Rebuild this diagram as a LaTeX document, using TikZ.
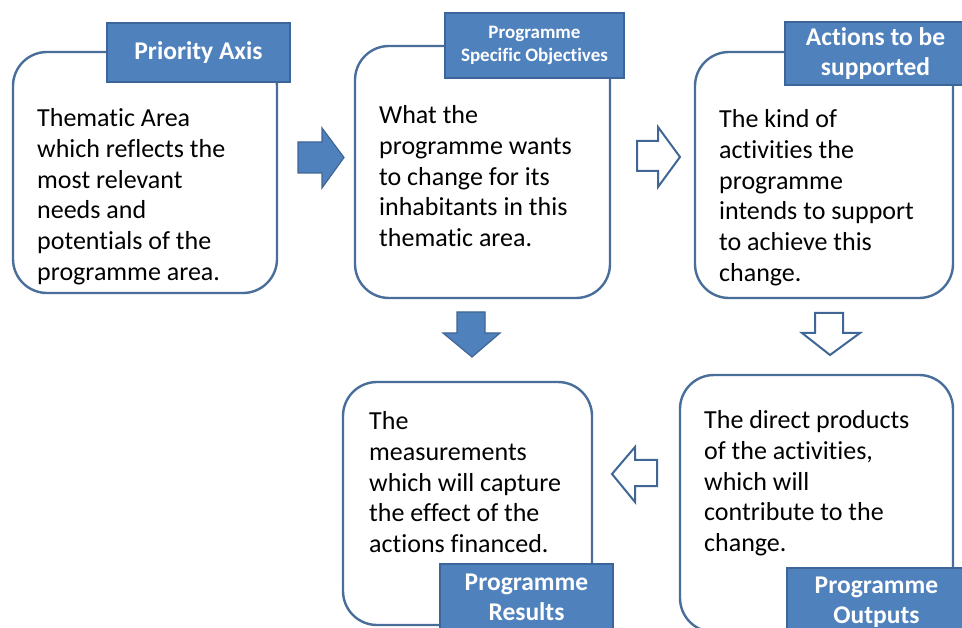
\documentclass[tikz,border=0pt]{standalone}
\usepackage{fontspec}
\setmainfont{Carlito}[Ligatures=NoCommon]
\definecolor{boxline}{HTML}{4A6E9A}
\definecolor{tagfill}{HTML}{4F81BD}
\definecolor{tagline}{HTML}{3C669A}
\definecolor{arrowline}{HTML}{3F6694}
\begin{document}
\begin{tikzpicture}[x=1pt,y=-1pt,
  bodybox/.style={draw=boxline, line width=2.4pt, rounded corners=34pt, fill=white, inner sep=0pt},
  tag/.style={draw=tagline, line width=1.4pt, fill=tagfill, text=white, align=center, inner sep=0pt,
    font=\fontsize{25.5}{30}\selectfont\bfseries},
  smalltag/.style={tag, font=\fontsize{19}{23}\selectfont\bfseries},
  bodytext/.style={anchor=north west, align=left, inner sep=0pt, text=black,
    font=\fontsize{26}{30.7}\selectfont},
  fullarrow/.style={draw=arrowline, line width=1.2pt, fill=tagfill},
  hollowarrow/.style={draw=arrowline, line width=2pt, fill=white}]
\useasboundingbox (0,0) rectangle (962,628);

% boxes
\node[bodybox, minimum width=264pt, minimum height=241pt] (pa) at (145,172.5) {};
\node[bodybox, minimum width=255pt, minimum height=252pt] (pso) at (482.5,172) {};
\node[bodybox, minimum width=258pt, minimum height=246pt] (act) at (824,175) {};
\node[bodybox, minimum width=249pt, minimum height=243pt] (res) at (467.5,503.5) {};
\node[bodybox, minimum width=273pt, minimum height=257pt] (out) at (816.5,503.5) {};

% tags
\node[tag, minimum width=183pt, minimum height=59pt] (tpa) at (198.5,52.5) {Priority Axis};
\node[smalltag, minimum width=179pt, minimum height=65pt] (tpso) at (534.5,45.5) {Programme\\Specific Objectives};
\node[tag, minimum width=181pt, minimum height=63pt] (tact) at (875.5,53.5) {Actions to be\\supported};
\node[tag, minimum width=173pt, minimum height=67pt] (tres) at (526.5,597.5) {Programme\\Results};
\node[tag, minimum width=179pt, minimum height=68pt] (tout) at (876.5,602) {Programme\\Outputs};

% body texts
\node[bodytext] (xpa) at (37,108.5) {Thematic Area\\which reflects the\\most relevant\\needs and\\potentials of the\\programme area.};
\node[bodytext] (xpso) at (379,105.5) {What the\\programme wants\\to change for its\\inhabitants in this\\thematic area.};
\node[bodytext] (xact) at (719,109.5) {The kind of\\activities the\\programme\\intends to support\\to achieve this\\change.};
\node[bodytext] (xres) at (369,411.5) {The\\measurements\\which will capture\\the effect of the\\actions financed.};
\node[bodytext] (xout) at (704,410.5) {The direct products\\of the activities,\\which will\\contribute to the\\change.};

% block arrows
\draw[fullarrow] (298,142) -- (322,142) -- (322,128) -- (344,157.5) -- (322,188) -- (322,173) -- (298,173) -- cycle;
\draw[hollowarrow] (637,141) -- (658,141) -- (658,127) -- (680,157) -- (658,187) -- (658,171) -- (637,171) -- cycle;
\draw[fullarrow] (457,312) -- (485,312) -- (485,333) -- (500,333) -- (472,357) -- (443,333) -- (457,333) -- cycle;
\draw[hollowarrow] (815,313) -- (843,313) -- (843,333) -- (860,333) -- (830,355) -- (802,333) -- (815,333) -- cycle;
\draw[hollowarrow] (657,460) -- (635,460) -- (635,447) -- (612,474) -- (635,502) -- (635,486) -- (657,486) -- cycle;
\end{tikzpicture}
\end{document}
